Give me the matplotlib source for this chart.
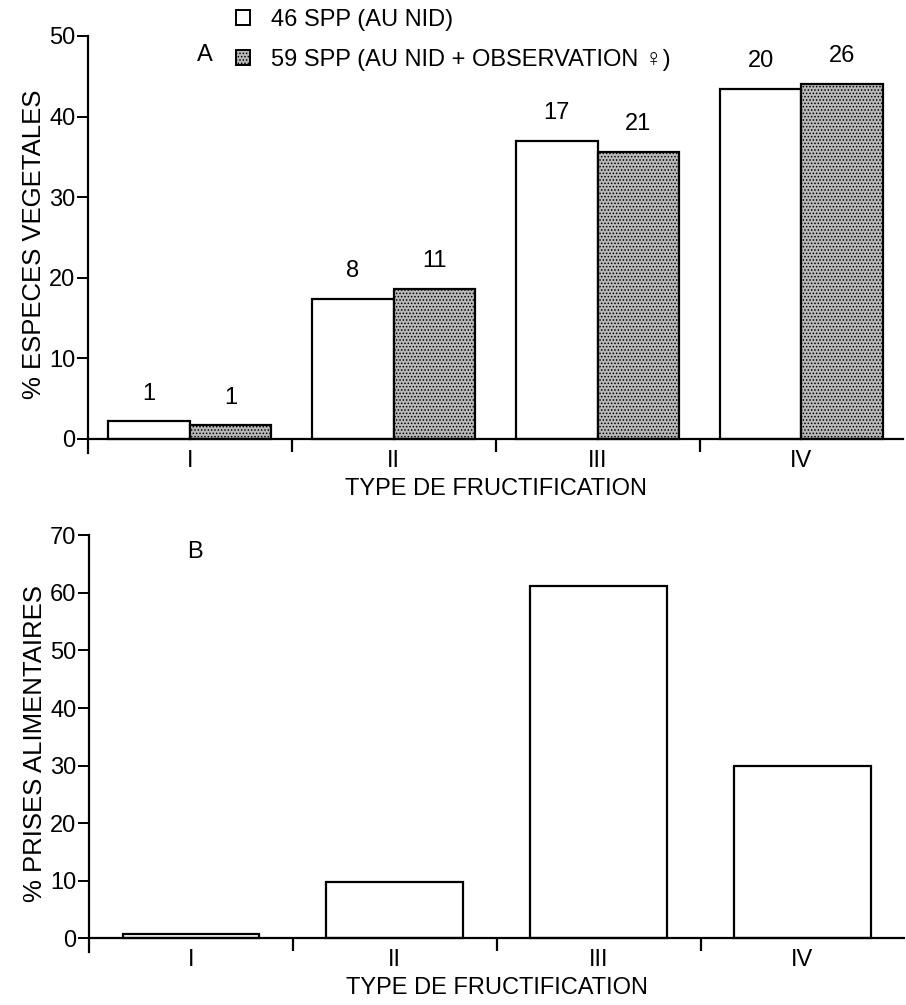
import matplotlib
matplotlib.use("Agg")
import matplotlib.pyplot as plt
from matplotlib.patches import Patch
import numpy as np

plt.rcParams["font.family"] = ["Liberation Sans", "DejaVu Sans"]
plt.rcParams["hatch.linewidth"] = 0.7

types = ["I", "II", "III", "IV"]

# panel A: % of plant species per fruiting type
nid_pct = [2.17, 17.39, 36.96, 43.48]        # 46 spp (au nid)
obs_pct = [1.69, 18.64, 35.59, 44.07]        # 59 spp (au nid + observation)
nid_n = [1, 8, 17, 20]
obs_n = [1, 11, 21, 26]

# panel B: % of feeding events per fruiting type
prises_pct = [0.75, 9.8, 61.2, 30.0]

legend_labels = ["46 SPP (AU NID)", "59 SPP (AU NID + OBSERVATION \u2640)"]

fs = 17
gray = "#b9b9b9"
x = np.arange(len(types))


def style_axis(ax, ytop, ybottom, step):
    ax.set_xlim(-0.5, 3.5)
    ax.set_ylim(ybottom, ytop)
    ax.spines["top"].set_visible(False)
    ax.spines["right"].set_visible(False)
    ax.spines["bottom"].set_position(("data", 0))
    ax.spines["left"].set_linewidth(1.6)
    ax.spines["bottom"].set_linewidth(1.6)
    ax.set_yticks(np.arange(0, ytop + 1, step))
    ax.tick_params(axis="y", direction="out", length=8, width=1.4, pad=1, labelsize=fs)
    # boundary ticks between categories, labels at the centres
    ax.set_xticks([0.5, 1.5, 2.5])
    ax.set_xticklabels([])
    ax.tick_params(axis="x", which="major", direction="out", length=9.5, width=1.6)
    ax.set_xticks(x, minor=True)
    ax.set_xticklabels(types, minor=True)
    ax.tick_params(axis="x", which="minor", length=0, pad=8, labelsize=fs)
    ax.set_xlabel("TYPE DE FRUCTIFICATION", fontsize=fs, labelpad=4)


fig = plt.figure(figsize=(9.06, 10.05), dpi=100)

# ---- A ----
axA = fig.add_axes([0.0971, 0.5493, 0.90, 0.4149])
w = 0.4
axA.bar(x - w / 2, nid_pct, w, facecolor="white", edgecolor="black", linewidth=1.6)
axA.bar(x + w / 2, obs_pct, w, facecolor=gray, edgecolor="black",
        linewidth=1.6, hatch=".....")
style_axis(axA, 50, -1.74, 10)
axA.set_ylabel("% ESPECES VEGETALES", fontsize=18.5, labelpad=2)

for xi, v, n in zip(x - w / 2, nid_pct, nid_n):
    axA.annotate(str(n), (xi, v), xytext=(0, 20), textcoords="offset points",
                 ha="center", va="center", fontsize=fs)
for xi, v, n in zip(x + w / 2, obs_pct, obs_n):
    axA.annotate(str(n), (xi, v), xytext=(0, 20), textcoords="offset points",
                 ha="center", va="center", fontsize=fs)

fig.text(0.226, 0.945, "A", fontsize=fs, ha="center", va="center")

handles = [Patch(facecolor="white", edgecolor="black", linewidth=1.4),
           Patch(facecolor=gray, edgecolor="black", linewidth=1.4, hatch=".....")]
fig.legend(handles, legend_labels, loc="upper left",
           bbox_to_anchor=(0.26, 0.991), frameon=False, fontsize=fs,
           handlelength=0.6, handleheight=0.6, handletextpad=0.9,
           labelspacing=0.75, borderpad=0, borderaxespad=0)

# ---- B ----
axB = fig.add_axes([0.0982, 0.0527, 0.90, 0.4145])
axB.bar(x, prises_pct, 0.67, facecolor="white", edgecolor="black", linewidth=1.6)
style_axis(axB, 70, -2.43, 10)
axB.set_ylabel("% PRISES ALIMENTAIRES", fontsize=18.5, labelpad=2)
fig.text(0.215, 0.451, "B", fontsize=fs, ha="center", va="center")

fig.savefig("out.png", dpi=100)
